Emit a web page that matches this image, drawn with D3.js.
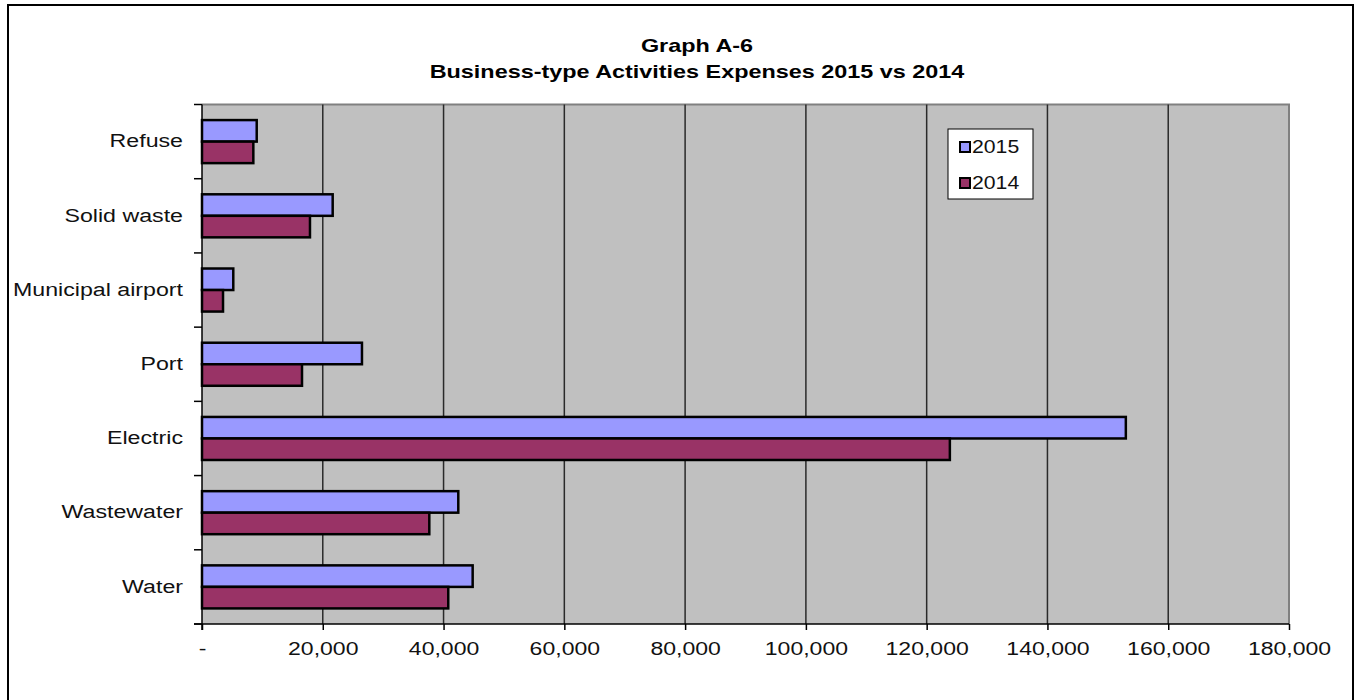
<!DOCTYPE html>
<html>
<head>
<meta charset="utf-8">
<script src="https://cdn.jsdelivr.net/npm/d3@7"></script>
<style>
  html, body { margin: 0; padding: 0; background: #fff; }
  svg { display: block; font-family: "Liberation Sans", Arial, sans-serif; }
</style>
</head>
<body>
<svg id="chart" width="1359" height="700"></svg>
<script>
// Expenses by activity (thousands of dollars)
const categories = ["Refuse", "Solid waste", "Municipal airport", "Port", "Electric", "Wastewater", "Water"];
const seriesNames = ["2015", "2014"];
const values2015 = [9060, 21640, 5180, 26490, 152980, 42440, 44820];
const values2014 = [8500, 17880, 3480, 16560, 123840, 37640, 40780];
const xTicks = [0, 20000, 40000, 60000, 80000, 100000, 120000, 140000, 160000, 180000];
const seriesColors = ["#9999ff", "#993366"];

const svg = d3.select("#chart");

// outer frame
svg.append("rect").attr("x", 8).attr("y", 5).attr("width", 1345).attr("height", 720)
  .attr("fill", "#fff").attr("stroke", "#000").attr("stroke-width", 2);

const plot = { left: 202, right: 1289, top: 104.5, bottom: 624 };

const x = d3.scaleLinear().domain([0, 180000]).range([plot.left, plot.right]);
const y = d3.scaleBand().domain(categories).range([plot.top, plot.bottom]).padding(0);

// wide text: place at (tx, ty) and stretch horizontally
function wideText(sel, tx, ty, sx) {
  return sel.attr("x", 0).attr("y", 0)
    .attr("transform", (d, i) => {
      const px = typeof tx === "function" ? tx(d, i) : tx;
      const py = typeof ty === "function" ? ty(d, i) : ty;
      return `translate(${px},${py}) scale(${sx},1)`;
    });
}

// plot background
svg.append("rect").attr("x", plot.left).attr("y", plot.top)
  .attr("width", plot.right - plot.left).attr("height", plot.bottom - plot.top)
  .attr("fill", "#c0c0c0");

// top and right frame of the plot area
svg.append("path")
  .attr("d", `M${plot.left},${plot.top}H${plot.right}V${plot.bottom}`)
  .attr("fill", "none").attr("stroke", "#808080").attr("stroke-width", 2);

// vertical gridlines
svg.append("g").selectAll("line").data(xTicks.filter(d => d > 0 && d < 180000)).join("line")
  .attr("x1", d => x(d)).attr("x2", d => x(d))
  .attr("y1", plot.top).attr("y2", plot.bottom)
  .attr("stroke", "#2a2a2a").attr("stroke-width", 1.5);

// bars
const inset = y.bandwidth() * 0.21;
const barH = (y.bandwidth() - 2 * inset) / 2;
const seriesVals = [values2015, values2014];
seriesVals.forEach((vals, si) => {
  svg.append("g").selectAll("rect").data(categories).join("rect")
    .attr("x", x(0))
    .attr("y", (c) => y(c) + inset + si * barH)
    .attr("width", (c, i) => x(vals[i]) - x(0))
    .attr("height", barH)
    .attr("fill", seriesColors[si])
    .attr("stroke", "#000").attr("stroke-width", 2.5);
});

// x axis
const xAxis = d3.axisBottom(x).tickValues(xTicks).tickSize(6).tickPadding(12)
  .tickFormat(d => d === 0 ? "-" : d3.format(",")(d));
const gx = svg.append("g").attr("transform", `translate(0,${plot.bottom})`).call(xAxis);
gx.select(".domain").attr("stroke", "#000").attr("stroke-width", 1.5)
  .attr("d", `M${plot.left - 8},0H${plot.right}`);
gx.selectAll(".tick line").attr("stroke", "#000").attr("stroke-width", 1.5);
gx.selectAll(".tick text").attr("font-size", 18).attr("fill", "#111")
  .attr("font-family", "Liberation Sans, Arial, sans-serif")
  .attr("transform", "scale(1.28,1)");

// y axis
const boundaries = categories.map(c => y(c)).concat([plot.bottom]);
svg.append("line").attr("x1", plot.left).attr("x2", plot.left)
  .attr("y1", plot.top).attr("y2", plot.bottom + 6)
  .attr("stroke", "#000").attr("stroke-width", 1.5);
svg.append("g").selectAll("line").data(boundaries).join("line")
  .attr("x1", plot.left - 8).attr("x2", plot.left)
  .attr("y1", d => d).attr("y2", d => d)
  .attr("stroke", "#000").attr("stroke-width", 1.5);
wideText(
  svg.append("g").selectAll("text").data(categories).join("text"),
  183, c => y(c) + y.bandwidth() / 2 - 1, 1.22)
  .attr("text-anchor", "end").attr("dominant-baseline", "central")
  .attr("font-size", 19).attr("fill", "#111")
  .text(c => c);

// title
wideText(svg.append("text"), 697, 52, 1.3).attr("text-anchor", "middle")
  .attr("font-size", 18).attr("font-weight", "bold").text("Graph A-6");
wideText(svg.append("text"), 697, 78, 1.3).attr("text-anchor", "middle")
  .attr("font-size", 18).attr("font-weight", "bold")
  .text("Business-type  Activities  Expenses  2015  vs  2014");

// legend
const lg = svg.append("g");
lg.append("rect").attr("x", 948).attr("y", 129).attr("width", 85).attr("height", 70)
  .attr("fill", "#fff").attr("stroke", "#000").attr("stroke-width", 1);
seriesNames.forEach((s, i) => {
  const cy = 147 + i * 36;
  lg.append("rect").attr("x", 960).attr("y", cy - 5).attr("width", 10).attr("height", 10)
    .attr("fill", seriesColors[i]).attr("stroke", "#000").attr("stroke-width", 2);
  wideText(lg.append("text"), 972, cy, 1.18).attr("dominant-baseline", "central")
    .attr("font-size", 18).attr("fill", "#111").text(s);
});
</script>
</body>
</html>
